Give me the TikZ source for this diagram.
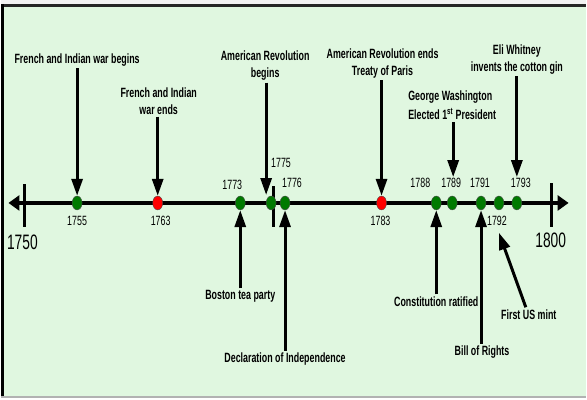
\documentclass[tikz,border=0pt]{standalone}
\usepackage{fontspec}
\newfontfamily\labfont[FakeStretch=0.66]{Liberation Sans}
\usetikzlibrary{arrows.meta,shapes.geometric}
\definecolor{bgfill}{HTML}{E0F7E0}
\definecolor{dotgreen}{HTML}{007A00}
\definecolor{dotred}{HTML}{FF0000}

\begin{document}
\begin{tikzpicture}[x=1pt,y=-1pt,
  evt/.style={font=\labfont\bfseries\fontsize{13.5}{17}\selectfont, align=center, inner sep=2pt},
  yr/.style={font=\labfont\fontsize{13.5}{15}\selectfont, inner sep=1pt},
  bigyr/.style={font=\labfont\fontsize{21}{23}\selectfont, inner sep=0pt},
  dot/.style={ellipse, draw=black!70, line width=0.4pt, minimum width=10pt, minimum height=14pt, inner sep=0pt, fill=dotgreen},
  reddot/.style={dot, fill=dotred},
  arr/.style={line width=3pt, -{Triangle[length=17pt,width=11pt]}},
  tickmark/.style={line width=3pt},
]
% frame and background
\fill[bgfill] (0,0) rectangle (587,400);
\fill[black!5] (0,0) rectangle (587,4);
\draw[line width=3pt, black!85] (0,5.5) -- (587,5.5);
\draw[line width=3pt] (1.5,4) -- (1.5,400);
\draw[line width=2pt, gray!60] (0,399) -- (587,399);
\useasboundingbox (0,0) rectangle (587,400);

% time axis
\coordinate (tl) at (7,204);
\coordinate (tr) at (570,204);
\draw[line width=4.5pt, {Triangle[length=11pt,width=15pt]}-{Triangle[length=11pt,width=15pt]}] (tl) -- (tr);
\draw[tickmark] (23,185) -- (23,228);
\draw[tickmark] (553,184) -- (553,228);
\draw[tickmark] (273,187) -- (273,228);
\node[bigyr] (y1750) at (21,244) {1750};
\node[bigyr] (y1800) at (552,242) {1800};

% event dots
\node[dot]    (d1755) at (76,204) {};
\node[reddot] (d1763) at (157,204) {};
\node[dot]    (d1773) at (240,204) {};
\node[dot]    (d1775) at (271,204) {};
\node[dot]    (d1776) at (285,204) {};
\node[reddot] (d1783) at (382,204) {};
\node[dot]    (d1788) at (437,204) {};
\node[dot]    (d1789) at (453,204) {};
\node[dot]    (d1791) at (482,204) {};
\node[dot]    (d1792) at (500,204) {};
\node[dot]    (d1793) at (518,204) {};

% year labels
\node[yr] (y1755) at (76,222) {1755};
\node[yr] (y1763) at (160,222) {1763};
\node[yr] (y1783) at (381,222) {1783};
\node[yr] (y1792) at (498,222) {1792};
\node[yr] (y1773) at (232,186) {1773};
\node[yr] (y1775) at (281,164) {1775};
\node[yr] (y1776) at (292,184) {1776};
\node[yr] (y1788) at (421,184) {1788};
\node[yr] (y1789) at (452,184) {1789};
\node[yr] (y1791) at (481,184) {1791};
\node[yr] (y1793) at (522,184) {1793};

% events above the axis
\node[evt] (fiwb) at (76,60) {French and Indian war begins};
\node[evt] (fiwe) at (158,101.5) {French and Indian\\war ends};
\node[evt] (arb)  at (265,66) {American Revolution\\begins};
\node[evt] (are)  at (383,63.5) {American Revolution ends\\Treaty of Paris};
\node[evt, align=left] (gw) at (453,106) {George Washington\\[2pt]Elected 1\textsuperscript{st} President};
\node[evt] (ew)   at (518,59.5) {Eli Whitney\\invents the cotton gin};

\draw[arr] (fiwb.south -| d1755) -- (d1755.north);
\draw[arr] (fiwe.south -| d1763) -- (d1763.north);
\draw[arr] (arb.south -| 266,0) -- (266,196);
\draw[arr] (are.south -| d1783) -- (d1783.north);
\draw[arr] (gw.south -| 454,0) -- (y1789.north -| 454,0);
\draw[arr] (ew.south -| d1793) -- (y1793.north -| d1793);

% events below the axis
\node[evt] (btp)  at (240,298) {Boston tea party};
\node[evt] (doi)  at (285,361) {Declaration of Independence};
\node[evt] (con)  at (437,303) {Constitution ratified};
\node[evt] (bor)  at (483,354) {Bill of Rights};
\node[evt] (mint) at (530,316) {First US mint};

\draw[arr] (btp.north -| d1773) -- (d1773.south);
\draw[arr] (doi.north -| d1776) -- (d1776.south);
\draw[arr] (con.north -| d1788) -- (d1788.south);
\draw[arr] (bor.north -| d1791) -- (d1791.south);
\draw[arr] ([xshift=-3pt]mint.north) -- ([xshift=2pt,yshift=-6pt]y1792.south);
\end{tikzpicture}
\end{document}
